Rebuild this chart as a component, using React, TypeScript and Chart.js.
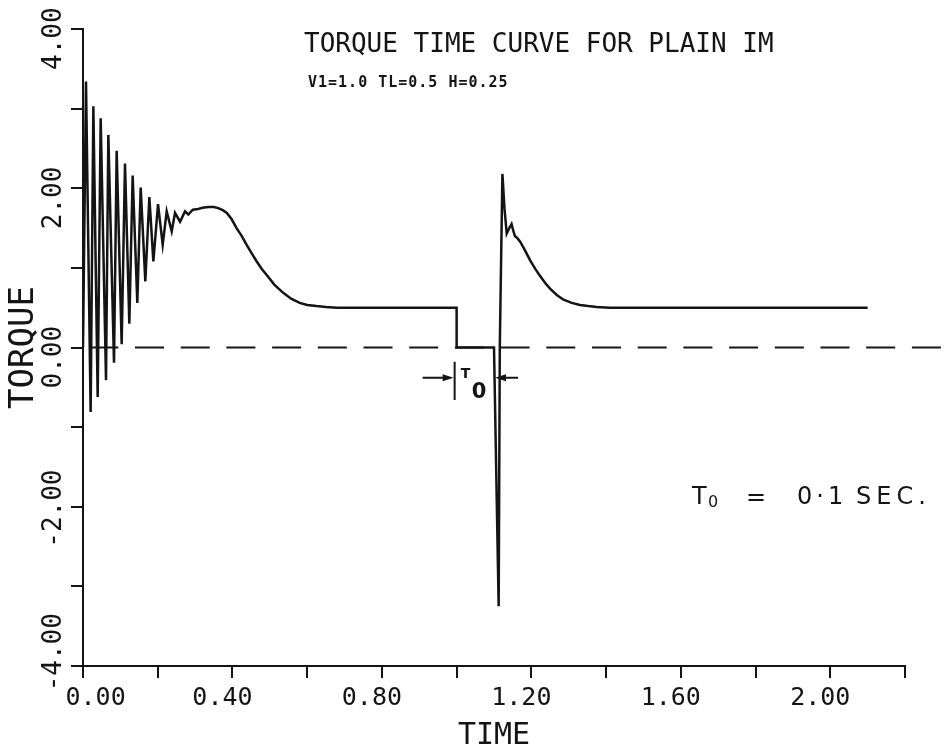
import { useEffect, useRef } from 'react';
import { Chart, registerables } from 'chart.js';

Chart.register(...registerables);

// Electromagnetic torque (p.u.) of the plain induction motor against time (s):
// start-up transient, supply interruption at 1.0 s, reconnection at 1.1 s.
const timeSec = [
  0, 0.008, 0.0205, 0.0277, 0.0393, 0.0473, 0.0616, 0.0678, 0.083, 0.0901,
  0.1035, 0.1124, 0.124, 0.1329, 0.1454, 0.1544, 0.1668, 0.1776, 0.1883, 0.2008,
  0.2133, 0.224, 0.2374, 0.2463, 0.2597, 0.273, 0.2819, 0.294, 0.308, 0.32,
  0.335, 0.35, 0.362, 0.374, 0.385, 0.398, 0.411, 0.425, 0.438, 0.452,
  0.465, 0.478, 0.49, 0.512, 0.535, 0.558, 0.58, 0.6, 0.625, 0.65,
  0.68, 1.0, 1.0, 1.1, 1.1125, 1.1155, 1.1225, 1.128, 1.134, 1.141,
  1.147, 1.152, 1.156, 1.163, 1.17, 1.183, 1.196, 1.21, 1.223, 1.237,
  1.25, 1.268, 1.286, 1.308, 1.33, 1.352, 1.375, 1.41, 2.1,
];

const torquePu = [
  0, 3.34, -0.81, 3.03, -0.62, 2.88, -0.41, 2.67, -0.19, 2.47,
  0.04, 2.31, 0.3, 2.16, 0.56, 2.01, 0.83, 1.89, 1.08, 1.8,
  1.29, 1.71, 1.46, 1.69, 1.58, 1.71, 1.67, 1.73, 1.74, 1.755,
  1.765, 1.765, 1.75, 1.725, 1.69, 1.61, 1.5, 1.4, 1.29, 1.18,
  1.08, 0.99, 0.92, 0.79, 0.69, 0.61, 0.56, 0.535, 0.52, 0.508,
  0.5, 0.5, 0, 0, -3.25, 0, 2.18, 1.75, 1.43, 1.5,
  1.55, 1.46, 1.4, 1.37, 1.33, 1.22, 1.1, 0.99, 0.9, 0.81,
  0.74, 0.66, 0.6, 0.56, 0.535, 0.52, 0.51, 0.5, 0.5,
];

// Zero-torque reference line, carried past the end of the time axis
const zeroRefTime = [0, 2.32];
const zeroRefTorque = [0, 0];

// Supply interruption window (T0)
const outageStart = 1.0;
const outageEnd = 1.1;

// Axes
const timeRange = [0, 2.2];
const timeStep = 0.2;
const timeLabelValues = [0, 0.4, 0.8, 1.2, 1.6, 2.0];
const timeLabels = ['   0.00', '0.40', '0.80', '1.20', '1.60', '2.00'];
const torqueRange = [-4, 4];
const torqueStep = 1;
const torqueLabelValues = [-4, -2, 0, 2, 4];
const torqueLabels = [' -4.00', '-2.00', '0.00', '2.00', '4.00'];

const headline = 'TORQUE TIME CURVE FOR PLAIN IM';
const runParams = 'V1=1.0 TL=0.5 H=0.25';

const INK = '#141414';
const MONO = "'DejaVu Sans Mono', 'Liberation Mono', monospace";
const HAND = "'DejaVu Sans', 'Noto Sans', sans-serif";

const pickLabel = (values: number[], labels: string[], v: number) => {
  const i = values.findIndex((l) => Math.abs(l - v) < 1e-6);
  return i >= 0 ? labels[i] : '';
};

const plotNotes = {
  id: 'plotNotes',
  afterDraw(chart: any) {
    const { ctx } = chart;
    const xs = chart.scales.x;
    const ys = chart.scales.y;
    ctx.save();
    ctx.fillStyle = INK;
    ctx.strokeStyle = INK;
    ctx.textAlign = 'left';
    ctx.textBaseline = 'alphabetic';

    // heading and run parameters
    ctx.font = `26px ${MONO}`;
    ctx.fillText(headline, 304, 52);
    ctx.font = `bold 15px ${MONO}`;
    ctx.letterSpacing = '1px';
    ctx.fillText(runParams, 308, 87);
    ctx.letterSpacing = '0px';

    // T0 dimension marker between interruption and reconnection
    const xa = xs.getPixelForValue(outageStart) - 2;
    const xb = xs.getPixelForValue(outageEnd);
    const ya = ys.getPixelForValue(-0.38);
    ctx.lineWidth = 2;
    ctx.beginPath();
    ctx.moveTo(xa - 32, ya);
    ctx.lineTo(xa - 6, ya);
    ctx.moveTo(xb + 6, ya);
    ctx.lineTo(xb + 24, ya);
    ctx.moveTo(xa, ys.getPixelForValue(-0.18));
    ctx.lineTo(xa, ys.getPixelForValue(-0.66));
    ctx.stroke();
    ctx.beginPath();
    ctx.moveTo(xa - 1, ya);
    ctx.lineTo(xa - 12, ya - 3.5);
    ctx.lineTo(xa - 12, ya + 3.5);
    ctx.closePath();
    ctx.moveTo(xb + 1, ya);
    ctx.lineTo(xb + 12, ya - 3.5);
    ctx.lineTo(xb + 12, ya + 3.5);
    ctx.closePath();
    ctx.fill();
    ctx.font = `bold 14px ${HAND}`;
    ctx.fillText('T', xa + 6, ya);
    ctx.font = `bold 21px ${HAND}`;
    ctx.fillText('0', xa + 17, ya + 20);

    // handwritten note
    ctx.font = `24px ${HAND}`;
    ctx.fillText('T', 692, 504);
    ctx.font = `16px ${HAND}`;
    ctx.fillText('0', 708, 507);
    ctx.font = `24px ${HAND}`;
    ctx.fillText('=', 746, 505);
    ctx.letterSpacing = '4px';
    ctx.fillText('0\u00b71', 797, 504);
    ctx.letterSpacing = '5px';
    ctx.fillText('SEC.', 856, 504);
    ctx.restore();
  },
};

export default function App() {
  const canvasRef = useRef<HTMLCanvasElement | null>(null);

  useEffect(() => {
    const canvas = canvasRef.current;
    if (!canvas) return;

    const curve = timeSec.map((t, i) => ({ x: t, y: torquePu[i] }));
    const zeroRef = zeroRefTime.map((t, i) => ({ x: t, y: zeroRefTorque[i] }));

    const chart = new Chart(canvas, {
      type: 'line',
      data: {
        datasets: [
          {
            data: curve,
            borderColor: INK,
            borderWidth: 2.5,
            pointRadius: 0,
            tension: 0,
            fill: false,
          },
          {
            data: zeroRef,
            borderColor: INK,
            borderWidth: 2,
            borderDash: [29, 16.7],
            borderDashOffset: 39.4,
            pointRadius: 0,
            fill: false,
            clip: false,
          } as any,
        ],
      },
      options: {
        responsive: false,
        animation: false,
        events: [],
        layout: { padding: { top: 29, right: 41, left: 0, bottom: 0 } },
        plugins: {
          legend: { display: false },
          tooltip: { enabled: false },
          title: { display: false },
        },
        scales: {
          x: {
            type: 'linear',
            position: 'bottom',
            min: timeRange[0],
            max: timeRange[1],
            afterFit: (scale: any) => {
              scale.height = 88;
            },
            border: { display: true, color: INK, width: 2 },
            grid: {
              drawOnChartArea: false,
              drawTicks: true,
              tickLength: 12,
              color: INK,
              lineWidth: 2,
            },
            ticks: {
              stepSize: timeStep,
              autoSkip: false,
              maxRotation: 0,
              minRotation: 0,
              padding: 5,
              labelOffset: -10,
              color: INK,
              font: { family: MONO, size: 25 },
              callback: (v: any) => pickLabel(timeLabelValues, timeLabels, Number(v)),
            },
            title: {
              display: true,
              text: 'TIME',
              color: INK,
              font: { family: MONO, size: 30 },
              padding: { top: 0, bottom: 0 },
            },
          },
          y: {
            type: 'linear',
            position: 'left',
            min: torqueRange[0],
            max: torqueRange[1],
            afterFit: (scale: any) => {
              scale.width = 83;
            },
            border: { display: true, color: INK, width: 2 },
            grid: {
              drawOnChartArea: false,
              drawTicks: true,
              tickLength: 12,
              color: INK,
              lineWidth: 2,
            },
            ticks: {
              stepSize: torqueStep,
              autoSkip: false,
              minRotation: 90,
              maxRotation: 90,
              mirror: true,
              crossAlign: 'near',
              padding: -29,
              labelOffset: 41,
              color: INK,
              font: { family: MONO, size: 26 },
              callback: (v: any) => pickLabel(torqueLabelValues, torqueLabels, Number(v)),
            },
            title: {
              display: true,
              text: 'TORQUE',
              color: INK,
              font: { family: MONO, size: 34 },
              padding: { top: 4, bottom: 0 },
            },
          },
        },
      } as any,
      plugins: [plotNotes],
    });

    return () => chart.destroy();
  }, []);

  return (
    <div style={{ position: 'absolute', left: 0, top: 0, width: 946, height: 754, background: '#fff' }}>
      <canvas ref={canvasRef} width={946} height={754} style={{ display: 'block' }} />
    </div>
  );
}
